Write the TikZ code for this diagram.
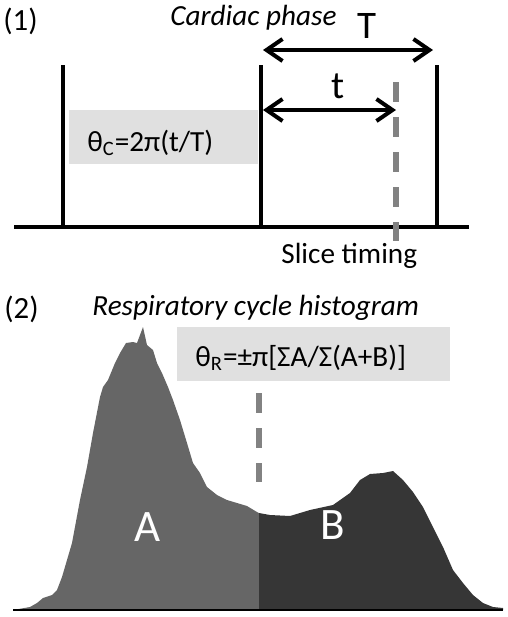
\documentclass[tikz,border=0pt]{standalone}
\usepackage{fontspec}
\setmainfont{Carlito}
\usepackage{tikz}
\usetikzlibrary{arrows.meta, positioning}
\definecolor{boxgray}{RGB}{224,224,224}
\definecolor{dashgray}{RGB}{130,130,130}
\definecolor{histA}{RGB}{102,102,102}
\definecolor{histB}{RGB}{54,54,54}

\begin{document}
\begin{tikzpicture}[x=0.5pt, y=-0.5pt,
  lbl/.style={inner sep=0pt, font=\fontsize{14.6}{17}\selectfont},
  ital/.style={lbl, font=\fontsize{14.6}{17}\selectfont\itshape},
  panel/.style={inner sep=0pt, font=\fontsize{15.4}{18}\selectfont},
  big/.style={inner sep=0pt, font=\fontsize{19.5}{22}\selectfont},
  area/.style={inner sep=0pt, text=white, font=\fontsize{22.5}{25}\selectfont},
  pulse/.style={line width=2pt},
  span/.style={line width=2pt, {Straight Barb[length=8pt,width=11pt]}-{Straight Barb[length=8pt,width=11pt]}},
  slice/.style={dashgray, line width=3pt, dash pattern=on 10pt off 7.5pt}]
  \useasboundingbox (0,0) rectangle (508,617);
  % (1) cardiac phase
  \node[panel, anchor=base west] (p1) at (3,30) {(1)};
  \node[ital, anchor=base west] (cardiac) at (170,25) {Cardiac phase};
  \fill[boxgray] (69,110) rectangle (258,164);
  \node[lbl, anchor=base west] (thetaC) at (87,151) {θ\textsubscript{C}=2π(t/T)};
  \coordinate (ecgL) at (14,227);
  \coordinate (ecgR) at (469,227);
  \draw[pulse] (ecgL) -- (ecgR);
  \foreach \x [count=\i] in {63,261,437} {
    \coordinate (top\i) at (\x,65);
    \coordinate (bot\i) at (\x,227);
    \draw[pulse] (top\i) -- (bot\i);
  }
  \coordinate (sliceTop) at (396,82);
  \coordinate (sliceBot) at (396,241);
  \draw[slice] (sliceTop) -- (sliceBot);
  \coordinate (TL) at (263,50);
  \coordinate (TR) at (433,50);
  \draw[span] (TL) -- (TR);
  \node[big, anchor=base] (Tlab) at (367,38) {T};
  \coordinate (tL) at (263,110);
  \coordinate (tR) at (396,110);
  \draw[span] (tL) -- (tR);
  \node[big, anchor=base] (tlab) at (338,98) {t};
  \node[lbl, anchor=base west] (slice) at (281,263) {Slice timing};
  % (2) respiratory histogram
  \node[panel, anchor=base west] (p2) at (4,318) {(2)};
  \node[ital, anchor=base west] (resp) at (92,315) {Respiratory cycle histogram};
  \fill[boxgray] (177,327) rectangle (450,381);
  \node[lbl, anchor=base west] (thetaR) at (195,366) {θ\textsubscript{R}=±π[ΣA/Σ(A+B)]};
  \coordinate (split) at (259,513);
  \coordinate (splitBase) at (259,610);
  \fill[histA] (13,610) -- (30,607) -- (37,603) -- (43,598) -- (52,595) -- (57,590)
    -- (62,577) -- (67,560) -- (72,543) -- (80,500) -- (87,467) -- (93,433)
    -- (100,397) -- (103,387) -- (108,380) -- (115,363) -- (120,353) -- (126,343)
    -- (133,342) -- (137,343) -- (143,327) -- (147,345) -- (153,350) -- (157,363)
    -- (162,373) -- (168,387) -- (173,400) -- (180,420) -- (187,443) -- (193,463)
    -- (200,473) -- (207,487) -- (217,495) -- (227,500) -- (237,503) -- (247,506)
    -- (257,512) -- (split) -- (splitBase) -- cycle;
  \fill[histB] (splitBase) -- (split) -- (270,515) -- (290,516) -- (310,510)
    -- (333,505) -- (350,493) -- (360,480) -- (370,474) -- (383,473) -- (393,471)
    -- (403,480) -- (413,492) -- (423,507) -- (433,527) -- (443,547) -- (453,570)
    -- (463,583) -- (473,595) -- (483,603) -- (493,607) -- (503,608) -- (503,610) -- cycle;
  \coordinate (histL) at (13,610);
  \coordinate (histR) at (503,610);
  \draw[line width=1pt] (histL) -- (histR);
  \coordinate (cutTop) at (259,393);
  \coordinate (cutBot) at (259,482);
  \draw[slice] (cutTop) -- (cutBot);
  \node[area] (Alab) at (148,527) {A};
  \node[area] (Blab) at (333,525) {B};
\end{tikzpicture}
\end{document}
